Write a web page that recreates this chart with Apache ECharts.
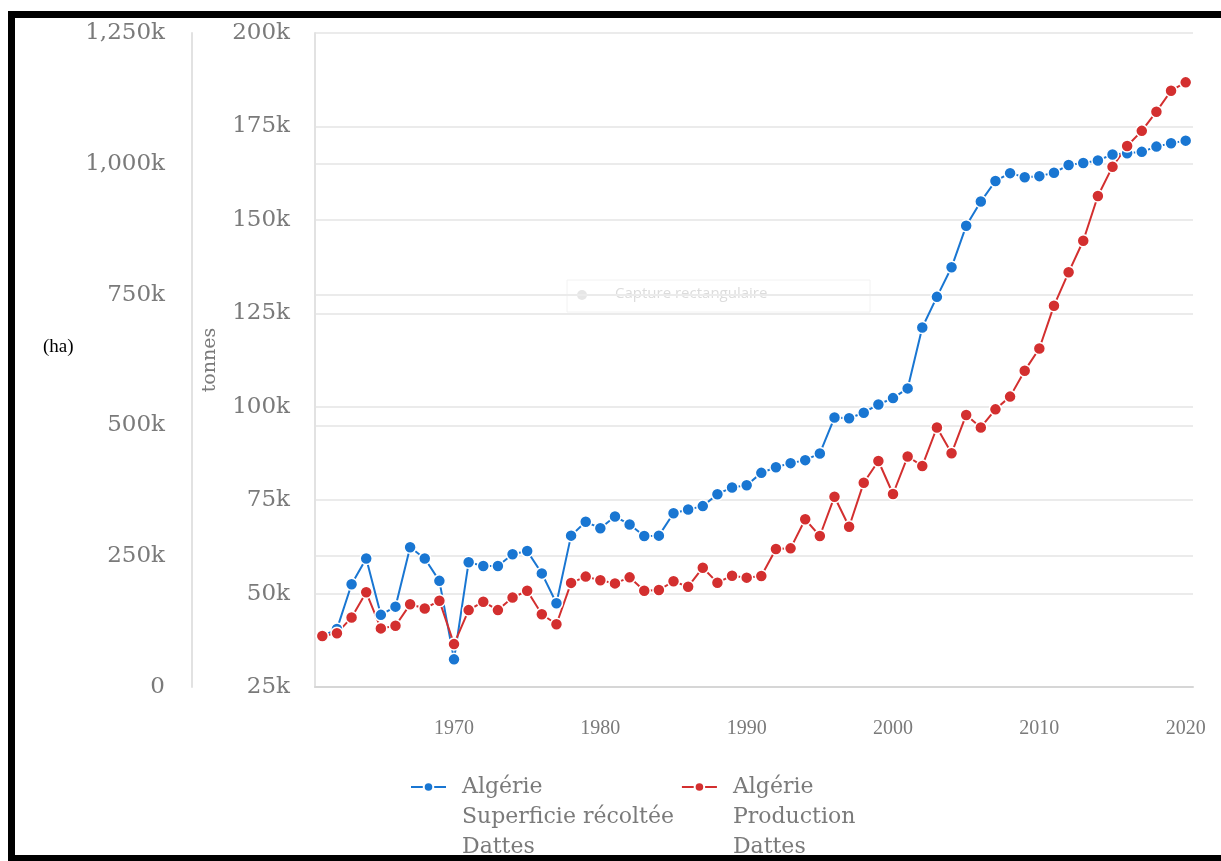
<!DOCTYPE html>
<html>
<head>
<meta charset="utf-8">
<script src="https://cdn.jsdelivr.net/npm/echarts@6/dist/echarts.min.js"></script>
<style>
  html, body { margin: 0; padding: 0; background: #fff; }
  #chart { width: 1221px; height: 861px; }
</style>
</head>
<body>
<div id="chart"></div>
<script>
// années (catégories)
const years = [
  1961, 1962, 1963, 1964, 1965, 1966, 1967, 1968, 1969, 1970,
  1971, 1972, 1973, 1974, 1975, 1976, 1977, 1978, 1979, 1980,
  1981, 1982, 1983, 1984, 1985, 1986, 1987, 1988, 1989, 1990,
  1991, 1992, 1993, 1994, 1995, 1996, 1997, 1998, 1999, 2000,
  2001, 2002, 2003, 2004, 2005, 2006, 2007, 2008, 2009, 2010,
  2011, 2012, 2013, 2014, 2015, 2016, 2017, 2018, 2019, 2020
];

// Superficie récoltée (ha)
const superficie = [
  38600, 40500, 52500, 59400, 44300, 46500, 62400, 59400, 53400, 32400,
  58400, 57400, 57400, 60500, 61400, 55400, 47400, 65500, 69200, 67500,
  70600, 68500, 65400, 65500, 71500, 72500, 73400, 76600, 78400, 79000,
  82300, 83800, 84900, 85700, 87500, 97100, 96900, 98400, 100600, 102300,
  104900, 121200, 129400, 137300, 148400, 154900, 160400, 162500, 161400, 161700,
  162600, 164700, 165200, 165900, 167500, 167800, 168200, 169600, 170500, 171200
];

// Production (tonnes)
const production = [
  97500, 102600, 133000, 181000, 112000, 117000, 158000, 150000, 165000, 82000,
  147000, 163000, 147000, 171000, 184000, 139000, 120000, 199000, 211000, 204000,
  198000, 209600, 184000, 185400, 202000, 191700, 228000, 199400, 212800, 209000,
  212000, 263800, 265000, 320500, 288600, 363700, 306400, 390500, 432000, 368900,
  440500, 422500, 496000, 446700, 520000, 496000, 530700, 555000, 604600, 647000,
  728800, 792600, 853000, 938500, 994500, 1034000, 1063000, 1099600, 1139700, 1155700
];

const seriesNames = [
  'Algérie\nSuperficie récoltée\nDattes',
  'Algérie\nProduction\nDattes'
];

const serif = 'DejaVu Serif';
const grey = '#7a7a7a';

function kFormat(v) {
  if (v === 0) return '0';
  return (v / 1000).toLocaleString('en-US') + 'k';
}
function decade(index, value) {
  return Number(value) % 10 === 0;
}

let myChart = echarts.init(document.getElementById('chart'));
myChart.setOption({
  backgroundColor: '#fff',
  animation: false,
  grid: {
    left: 315,
    right: 28,
    top: 33,
    bottom: 174
  },
  legend: {
    left: 410,
    top: 712,
    padding: 0,
    itemGap: 7,
    itemWidth: 35,
    itemHeight: 12,
    // deux lignes vides devant : l'icône reste sur la 1re ligne du texte
    formatter: function (name) {
      return '\n\n' + name;
    },
    textStyle: {
      fontFamily: serif,
      fontSize: 22,
      color: grey,
      lineHeight: 30,
      width: 209,
      overflow: 'none',
      padding: [0, 0, 0, 11]
    },
    data: seriesNames
  },
  xAxis: {
    type: 'category',
    data: years,
    boundaryGap: true,
    axisLine: { lineStyle: { color: '#d6d6d6', width: 2 } },
    axisTick: {
      interval: decade,
      alignWithLabel: true,
      length: 12,
      lineStyle: { color: '#dedede', width: 2 }
    },
    axisLabel: {
      interval: decade,
      margin: 32,
      fontFamily: 'Liberation Serif',
      fontSize: 20,
      color: grey
    },
    splitLine: { show: false }
  },
  yAxis: [
    {
      // axe intérieur
      type: 'value',
      position: 'left',
      min: 25000,
      max: 200000,
      interval: 25000,
      name: 'tonnes',
      nameLocation: 'middle',
      nameGap: 95,
      nameRotate: 90,
      nameTextStyle: { fontFamily: serif, fontSize: 19, color: grey },
      axisLine: { show: true, lineStyle: { color: '#e2e2e2', width: 2 } },
      axisTick: { show: false },
      axisLabel: {
        formatter: kFormat,
        margin: 25,
        fontFamily: serif,
        fontSize: 23,
        color: grey
      },
      splitLine: { lineStyle: { color: '#ebebeb', width: 2 } }
    },
    {
      // axe extérieur
      type: 'value',
      position: 'left',
      offset: 123,
      min: 0,
      max: 1250000,
      interval: 250000,
      axisLine: { show: true, lineStyle: { color: '#e2e2e2', width: 2 } },
      axisTick: { show: false },
      axisLabel: {
        formatter: kFormat,
        margin: 27,
        fontFamily: serif,
        fontSize: 23,
        color: grey
      },
      splitLine: { show: true, lineStyle: { color: '#ebebeb', width: 2 } }
    }
  ],
  series: [
    {
      name: seriesNames[0],
      type: 'line',
      yAxisIndex: 0,
      data: superficie,
      symbol: 'circle',
      symbolSize: 12,
      showAllSymbol: true,
      lineStyle: { color: '#1976d2', width: 2 },
      itemStyle: { color: '#1976d2', borderColor: '#fff', borderWidth: 1.5 }
    },
    {
      name: seriesNames[1],
      type: 'line',
      yAxisIndex: 1,
      data: production,
      symbol: 'circle',
      symbolSize: 12,
      showAllSymbol: true,
      lineStyle: { color: '#d32f2f', width: 2 },
      itemStyle: { color: '#d32f2f', borderColor: '#fff', borderWidth: 1.5 }
    }
  ],
  graphic: [
    // cadre noir de la capture
    { type: 'rect', shape: { x: 8, y: 11, width: 1213, height: 7 }, style: { fill: '#000' } },
    { type: 'rect', shape: { x: 8, y: 11, width: 7, height: 850 }, style: { fill: '#000' } },
    { type: 'rect', shape: { x: 8, y: 855, width: 1213, height: 6 }, style: { fill: '#000' } },
    {
      type: 'text', left: 43, top: 338,
      style: { text: '(ha)', fontFamily: 'Liberation Serif', fontSize: 19, fill: '#000' }
    },
    // infobulle fantôme
    {
      type: 'rect', z: -1,
      shape: { x: 567, y: 280, width: 303, height: 32 },
      style: { fill: 'rgba(255,255,255,0)', stroke: '#f2f2f2', lineWidth: 1 }
    },
    {
      type: 'circle', shape: { cx: 582, cy: 295, r: 5 },
      style: { fill: '#e6e6e6' }
    },
    {
      type: 'text', left: 615, top: 286,
      style: { text: 'Capture rectangulaire', fontFamily: 'Open Sans', fontSize: 15, fill: '#dcdcdc' }
    }
  ]
});
</script>
</body>
</html>
